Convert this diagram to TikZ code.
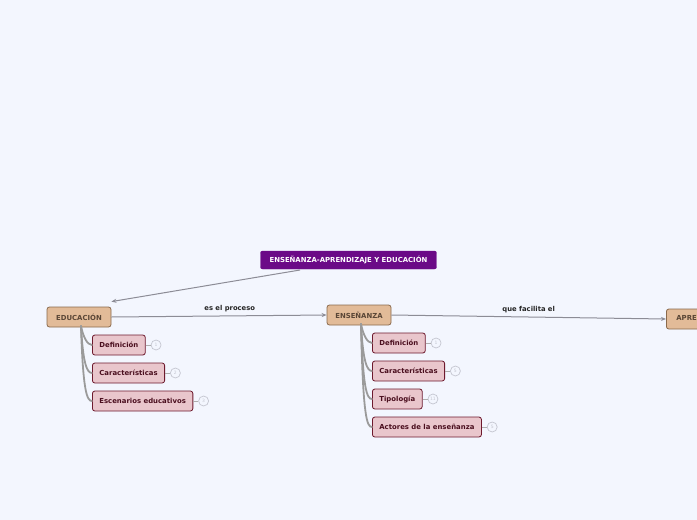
\documentclass[tikz,border=0pt]{standalone}
\usepackage{fontspec}
\setsansfont{DejaVu Sans}
\usetikzlibrary{arrows.meta,calc,positioning}
\definecolor{pagefill}{HTML}{F3F6FE}
\definecolor{rootfill}{HTML}{6B0A87}
\definecolor{mainfill}{HTML}{E2BB98}
\definecolor{maindraw}{HTML}{8A6A4C}
\definecolor{maintext}{HTML}{5A4636}
\definecolor{subfill}{HTML}{E9C6CC}
\definecolor{subdraw}{HTML}{6E1A2E}
\definecolor{subtext}{HTML}{4A0E1E}
\definecolor{linkdraw}{HTML}{8C8C96}
\definecolor{branchdraw}{HTML}{9A9A9A}
\definecolor{badgedraw}{HTML}{C4C6D0}

\begin{document}
\begin{tikzpicture}[
  x=1pt, y=-1pt,
  font=\sffamily\bfseries\fontsize{6.9}{7.5}\selectfont,
  >={Stealth[length=5pt,width=4pt]},
  link/.style={->, draw=linkdraw, line width=1pt},
  branch/.style={draw=branchdraw, line width=1.8pt, line cap=round},
  tick/.style={draw=branchdraw!80, line width=1pt},
  rootbox/.style={
    fill=rootfill, draw=rootfill, text=white, rounded corners=2pt,
    minimum height=18pt, inner xsep=9pt, inner ysep=0pt
  },
  mainbox/.style={
    fill=mainfill, draw=maindraw, text=maintext, line width=0.8pt,
    rounded corners=2.5pt, minimum height=20pt, minimum width=64pt,
    inner ysep=0pt
  },
  subbox/.style={
    fill=subfill, draw=subdraw, text=subtext, line width=0.8pt,
    rounded corners=2.5pt, minimum height=20pt, inner xsep=7pt,
    inner ysep=0pt
  },
  badge/.style={
    circle, draw=badgedraw, fill=pagefill, line width=0.7pt,
    minimum size=10pt, inner sep=0pt, text=badgedraw,
    font=\sffamily\fontsize{4.5}{4.5}\selectfont
  },
  linklabel/.style={font=\sffamily\bfseries\fontsize{6.8}{7.5}\selectfont,
    text=black!85}
]

% Page
\fill[pagefill] (0,0) rectangle (697,520);
\useasboundingbox (0,0) rectangle (697,520);

% Central topic and main ideas
\node[rootbox] (root) at (348.5,260) {ENSEÑANZA-APRENDIZAJE Y EDUCACIÓN};
\node[mainbox] (educacion) at (79,317) {EDUCACIÓN};
\node[mainbox] (ensenanza) at (359,315) {ENSEÑANZA};
\node[mainbox, anchor=west, minimum width=90pt, text width=70pt]
  (aprendizaje) at (666,319) {APRENDIZAJE};

% Links between main ideas
\coordinate (rootTail) at (300,270);
\draw[link] (rootTail) -- ($(educacion.north east)+(0,-5)$);
\draw[link] (educacion.east) -- node[linklabel, above, pos=0.55] {es el proceso}
  (ensenanza.west);
\draw[link] (ensenanza.east) -- node[linklabel, above, pos=0.5] {que facilita el}
  (aprendizaje.west);

% Subtopics of EDUCACIÓN
\node[subbox, anchor=west] (eduDef) at (92,345) {Definición};
\node[subbox, anchor=west] (eduCar) at (92,373) {Características};
\node[subbox, anchor=west] (eduEsc) at (92,401) {Escenarios educativos};
\node[badge, right=5pt of eduDef] (eduDefN) {1};
\node[badge, right=5pt of eduCar] (eduCarN) {2};
\node[badge, right=5pt of eduEsc] (eduEscN) {3};

\coordinate (eduTrunk) at (81,326);
\foreach \sub in {eduDef,eduCar,eduEsc} {
  \draw[branch] (eduTrunk)
    .. controls ($(eduTrunk |- \sub.west)+(2,-9)$)
       and ($(\sub.west)+(-5,0)$) .. (\sub.west);
  \draw[tick] (\sub.east) -- (\sub N.west);
}

% Subtopics of ENSEÑANZA
\node[subbox, anchor=west] (ensDef) at (372,343) {Definición};
\node[subbox, anchor=west] (ensCar) at (372,371) {Características};
\node[subbox, anchor=west] (ensTip) at (372,399) {Tipología};
\node[subbox, anchor=west] (ensAct) at (372,427) {Actores de la enseñanza};
\node[badge, right=5pt of ensDef] (ensDefN) {1};
\node[badge, right=5pt of ensCar] (ensCarN) {5};
\node[badge, right=5pt of ensTip] (ensTipN) {11};
\node[badge, right=5pt of ensAct] (ensActN) {5};

\coordinate (ensTrunk) at (361,324);
\foreach \sub in {ensDef,ensCar,ensTip,ensAct} {
  \draw[branch] (ensTrunk)
    .. controls ($(ensTrunk |- \sub.west)+(2,-9)$)
       and ($(\sub.west)+(-5,0)$) .. (\sub.west);
  \draw[tick] (\sub.east) -- (\sub N.west);
}

\end{tikzpicture}
\end{document}
